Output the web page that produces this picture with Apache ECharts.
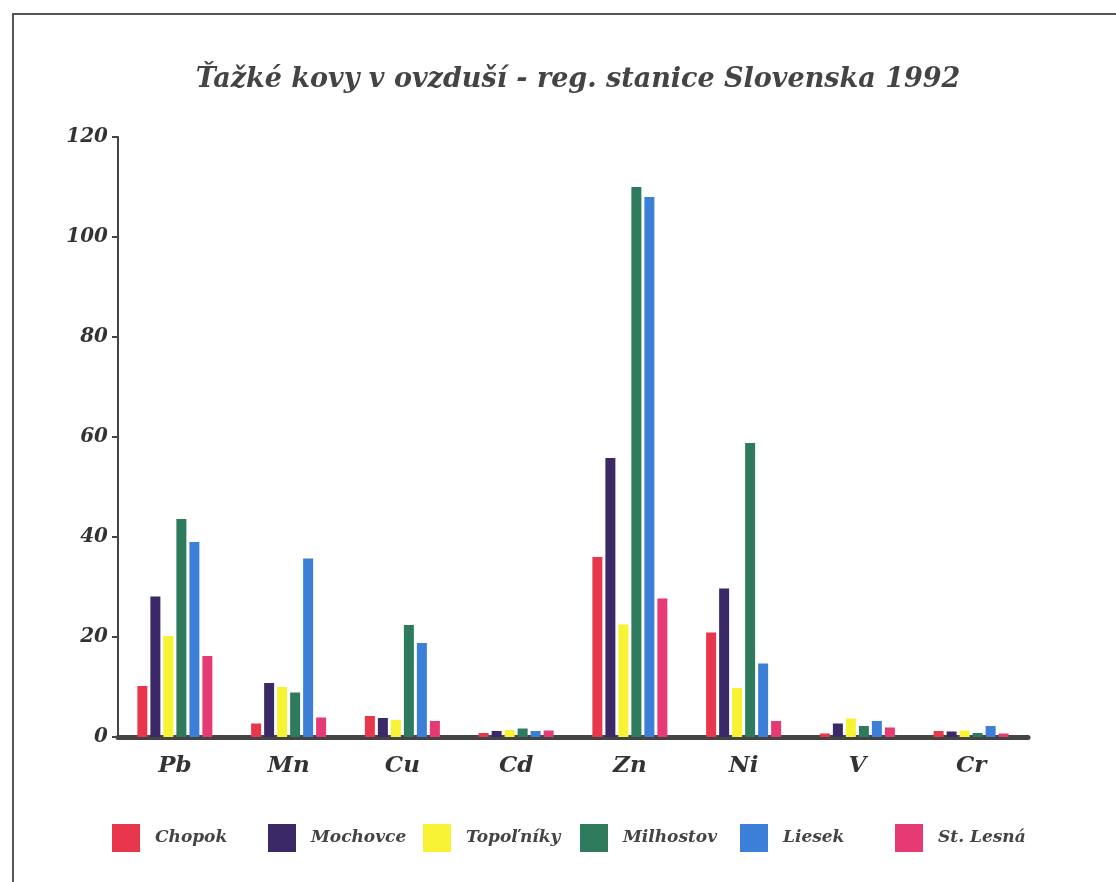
<!DOCTYPE html>
<html>
<head>
<meta charset="utf-8">
<script src="https://cdn.jsdelivr.net/npm/echarts@6/dist/echarts.min.js"></script>
<style>
html,body{margin:0;padding:0;background:#fff;}
#chart{width:1116px;height:882px;}
</style>
</head>
<body>
<div id="chart"></div>
<script>
const categories = ['Pb', 'Mn', 'Cu', 'Cd', 'Zn', 'Ni', 'V', 'Cr'];
const seriesNames = ['Chopok', 'Mochovce', 'Topoľníky', 'Milhostov', 'Liesek', 'St. Lesná'];
const chopok    = [10.2, 2.7, 4.2, 0.8, 36, 20.9, 0.7, 1.2];
const mochovce  = [28.1, 10.8, 3.8, 1.2, 55.8, 29.7, 2.7, 1.1];
const topolniky = [20.2, 10.0, 3.4, 1.4, 22.5, 9.8, 3.7, 1.3];
const milhostov = [43.6, 8.9, 22.4, 1.7, 110, 58.8, 2.2, 0.8];
const liesek    = [39.0, 35.7, 18.8, 1.2, 108, 14.7, 3.2, 2.2];
const stLesna   = [16.2, 3.9, 3.2, 1.3, 27.7, 3.2, 1.9, 0.7];
const colors = ['#e8364c', '#3b2866', '#f7f233', '#2d7b5c', '#3b7fd9', '#e63a74'];
const yTicks = [0, 20, 40, 60, 80, 100, 120];

const values = [chopok, mochovce, topolniky, milhostov, liesek, stLesna];
const legendLefts = [107, 263, 418, 575, 735, 890];
const font = 'DejaVu Serif';
const txt = { fontFamily: font, fontStyle: 'italic', fontWeight: 'bold' };
const chart = echarts.init(document.getElementById('chart'));
chart.setOption({
  backgroundColor: '#fff',
  animation: false,
  color: colors,
  title: {
    text: 'Ťažké kovy v ovzduší - reg. stanice Slovenska 1992',
    left: 573, top: 61, textAlign: 'center',
    textStyle: Object.assign({ fontSize: 27, color: '#444' }, txt)
  },
  graphic: [{
    type: 'rect', silent: true, z: -1,
    shape: { x: 13, y: 14, width: 1200, height: 1000 },
    style: { fill: 'none', stroke: '#555', lineWidth: 2 }
  }],
  legend: seriesNames.map((n, i) => ({
    data: [n],
    left: legendLefts[i], top: 819,
    itemWidth: 28, itemHeight: 28,
    icon: 'rect',
    textStyle: Object.assign({ fontSize: 17, color: '#444', padding: [0, 0, 0, 10] }, txt)
  })),
  grid: { left: 118, top: 137, width: 910, height: 600, containLabel: false },
  xAxis: {
    type: 'category', data: categories,
    axisLine: { lineStyle: { color: '#444', width: 5 } },
    axisTick: { show: false },
    axisLabel: Object.assign({ margin: 18, fontSize: 23, color: '#333' }, txt)
  },
  yAxis: {
    type: 'value', min: 0, max: 120, interval: 20,
    axisLine: { show: true, lineStyle: { color: '#444', width: 2 } },
    axisTick: { show: true, length: 6, lineStyle: { color: '#444', width: 2 } },
    splitLine: { show: false },
    axisLabel: Object.assign({ margin: 10, fontSize: 20, color: '#333',
      formatter: v => yTicks.includes(v) ? String(v) : '' }, txt)
  },
  series: seriesNames.map((n, i) => ({
    name: n, type: 'bar', data: values[i],
    barWidth: 10, barGap: '30%'
  }))
});
</script>
</body>
</html>
